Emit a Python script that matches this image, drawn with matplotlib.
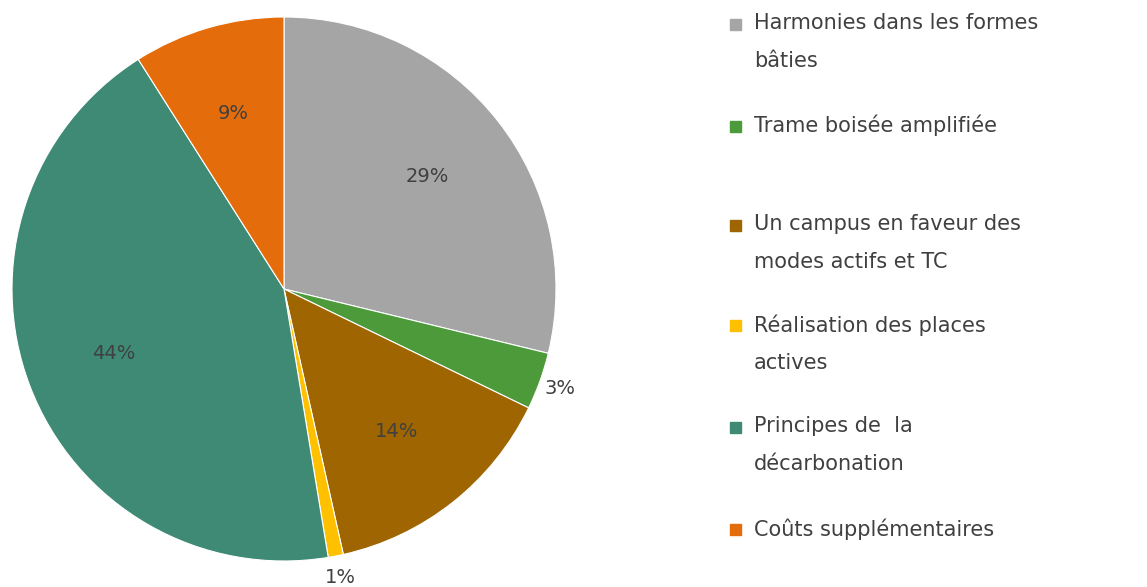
import numpy as np
import matplotlib
matplotlib.use("Agg")
import matplotlib.pyplot as plt
from matplotlib.patches import Rectangle

# data (clockwise from top)
categories = ["Harmonies dans les formes\nbâties",
              "Trame boisée amplifiée",
              "Un campus en faveur des\nmodes actifs et TC",
              "Réalisation des places\nactives",
              "Principes de  la\ndécarbonation",
              "Coûts supplémentaires"]
values = [28.8, 3.4, 14.3, 0.9, 43.6, 9.0]
colors = ["#A5A5A5", "#4C9A3A", "#9E6500", "#FFC000", "#3E8A74", "#E46C0A"]
outside = [False, True, False, True, False, False]

fig = plt.figure(figsize=(11.47, 5.87), dpi=100)
ax = fig.add_axes([12/1147, 26/587, 544/1147, 544/587])

wedges, _ = ax.pie(values, colors=colors, startangle=90, counterclock=False,
                   radius=1.0, wedgeprops=dict(linewidth=0.8, edgecolor="white"))
ax.set_xlim(-1, 1)
ax.set_ylim(-1, 1)
ax.set_aspect("equal")
ax.axis("off")

for w, v, out in zip(wedges, values, outside):
    ang = np.deg2rad((w.theta1 + w.theta2) / 2)
    r = 1.08 if out else 0.67
    ax.text(r*np.cos(ang), r*np.sin(ang), "%d%%" % round(v),
            ha="center", va="center", fontsize=14, color="#404040",
            clip_on=False)

# legend drawn by hand
ys = [24, 126, 225, 325, 427, 529]
for lab, c, y in zip(categories, colors, ys):
    fig.patches.append(Rectangle((730/1147, 1 - (y + 6)/587), 11/1147, 11/587,
                                 transform=fig.transFigure, color=c))
    fig.text(754/1147, 1 - (y - 11)/587, lab, ha="left", va="top",
             fontsize=15, color="#404040", linespacing=2.1)

fig.savefig("out.png", dpi=100)
